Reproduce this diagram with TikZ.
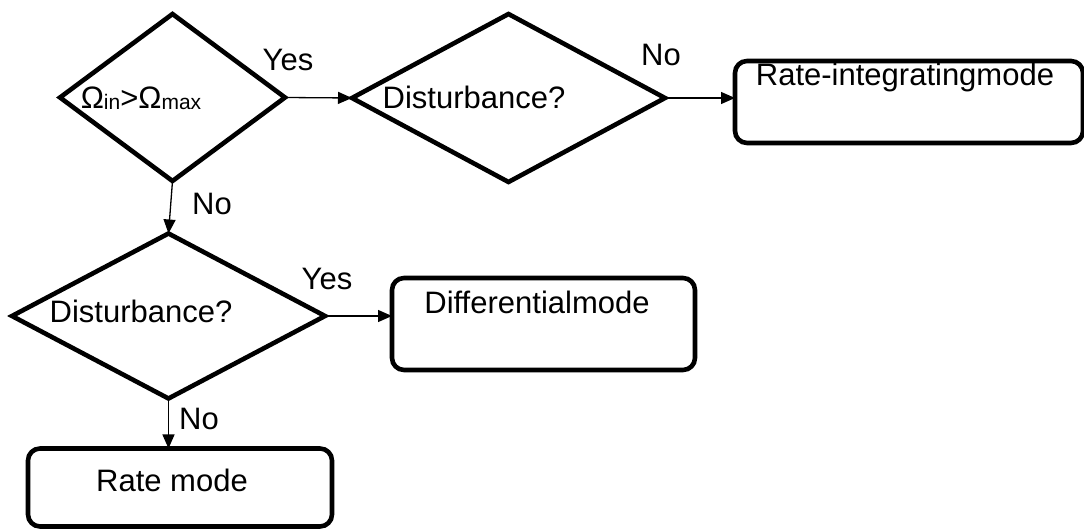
\documentclass[tikz,border=0pt]{standalone}
\usepackage{fontspec}
\setmainfont{Liberation Sans}
\usetikzlibrary{shapes.geometric,arrows.meta}
\begin{document}
\begin{tikzpicture}[x=0.5pt,y=-0.5pt,
  every node/.style={font=\fontsize{15.5}{18}\selectfont},
  decision/.style={diamond,draw,line width=2.3pt,inner sep=0pt,outer sep=0pt},
  modebox/.style={rectangle,draw,line width=2.3pt,rounded corners=6pt,inner sep=0pt,outer sep=0pt},
  txt/.style={inner sep=0pt},
  conn/.style={line width=0.65pt,-{Triangle[length=7pt,width=6pt]}}]
\useasboundingbox (0,0) rectangle (1084,529);
% decisions
\node[decision,minimum width=112.5pt,minimum height=83.5pt] (d1) at (172.5,97.5) {};
\node[decision,minimum width=156.5pt,minimum height=84pt] (d2) at (508.5,98) {};
\node[decision,minimum width=156.5pt,minimum height=82.5pt] (d3) at (168.5,316) {};
% boxes
\node[modebox,minimum width=174pt,minimum height=41pt] (b1) at (909,102) {};
\node[modebox,minimum width=151.5pt,minimum height=46pt] (b2) at (543.5,324) {};
\node[modebox,minimum width=152pt,minimum height=39pt] (b3) at (180,487.5) {};
% texts
\node[txt] (t1) at (141,98) {Ω\raisebox{-0.5pt}{\fontsize{10.5}{12}\selectfont in}>Ω\raisebox{-0.5pt}{\fontsize{10.5}{12}\selectfont max}};
\node[txt] (t2) at (474,97) {Disturbance?};
\node[txt] (t3) at (141,311) {Disturbance?};
\node[txt] (t4) at (905,77) {Rate-integratingmode};
\node[txt] (t5) at (537,302) {Differentialmode};
\node[txt] (t6) at (172,480) {Rate mode};
% connector labels
\node[txt] (l1) at (288,60) {Yes};
\node[txt] (l2) at (661,55) {No};
\node[txt] (l3) at (212,204) {No};
\node[txt] (l4) at (327,279) {Yes};
\node[txt] (l5) at (199,419) {No};
% connectors
\draw[conn] (d1.east) -- (d2.west);
\draw[conn] (d2.east) -- (d2.east -| b1.west);
\draw[conn] (d1.south) -- (d3.north);
\draw[conn] (d3.east) -- (d3.east -| b2.west);
\draw[conn] (d3.south) -- (d3.south |- b3.north);
\end{tikzpicture}
\end{document}
